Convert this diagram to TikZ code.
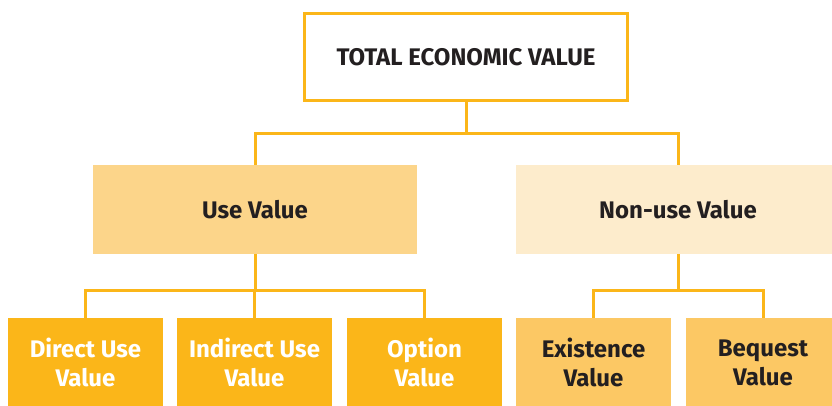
\documentclass[tikz,border=0pt]{standalone}
\usepackage{fontspec}
\setmainfont{Fira Sans}
\usepackage{xcolor}
\usetikzlibrary{positioning}

\definecolor{tevline}{HTML}{FBB619}
\definecolor{usefill}{HTML}{FCD58A}
\definecolor{nonusefill}{HTML}{FDECCC}
\definecolor{leaffill}{HTML}{FBB619}
\definecolor{leaflight}{HTML}{FCC864}
\definecolor{txt}{HTML}{231F20}

\begin{document}
\begin{tikzpicture}[x=1pt,y=-1pt]
\tikzstyle{base} = [rectangle, inner sep=0pt, align=center,
font=\fontsize{24}{29}\selectfont\bfseries]
\tikzstyle{top} = [base, draw=tevline, line width=3pt, fill=white, text=txt,
minimum width=323pt, minimum height=87pt]
\tikzstyle{mid} = [base, text=txt, minimum width=324pt, minimum height=89pt]
\tikzstyle{leaf} = [base, minimum width=155pt, minimum height=89pt]
\tikzstyle{line} = [draw=tevline, line width=3pt];

\clip (0,0) rectangle (832,405);
\fill[white] (0,0) rectangle (832,405);

% root
\node [top] (tev) at (466,57) {TOTAL ECONOMIC VALUE};
% row 2
\node [mid, fill=usefill] (use) at (255,209.5) {Use Value};
\node [mid, fill=nonusefill] (nonuse) at (678,209.5) {Non-use Value};
% row 3
\node [leaf, fill=leaffill, text=white] (direct) at (85.5,362.5) {Direct Use\\Value};
\node [leaf, fill=leaffill, text=white] (indirect) at (254.5,362.5) {Indirect Use\\Value};
\node [leaf, fill=leaffill, text=white] (option) at (424.5,362.5) {Option\\Value};
\node [leaf, fill=leaflight, text=txt] (exist) at (593.5,362.5) {Existence\\Value};
\node [leaf, fill=leaflight, text=txt] (bequest) at (763,362.5) {Bequest\\Value};

\tikzstyle{every path}=[line]
\path (tev.south) -- ++(0,31) -| (use.north);
\path (tev.south) -- ++(0,31) -| (nonuse.north);

\path (use.south) -- ++(0,36) -| (direct.north);
\path (use.south) -- ++(0,36) -| (indirect.north);
\path (use.south) -- ++(0,36) -| (option.north);

\path (nonuse.south) -- ++(0,36) -| (exist.north);
\path (nonuse.south) -- ++(0,36) -| (bequest.north);
\end{tikzpicture}
\end{document}
